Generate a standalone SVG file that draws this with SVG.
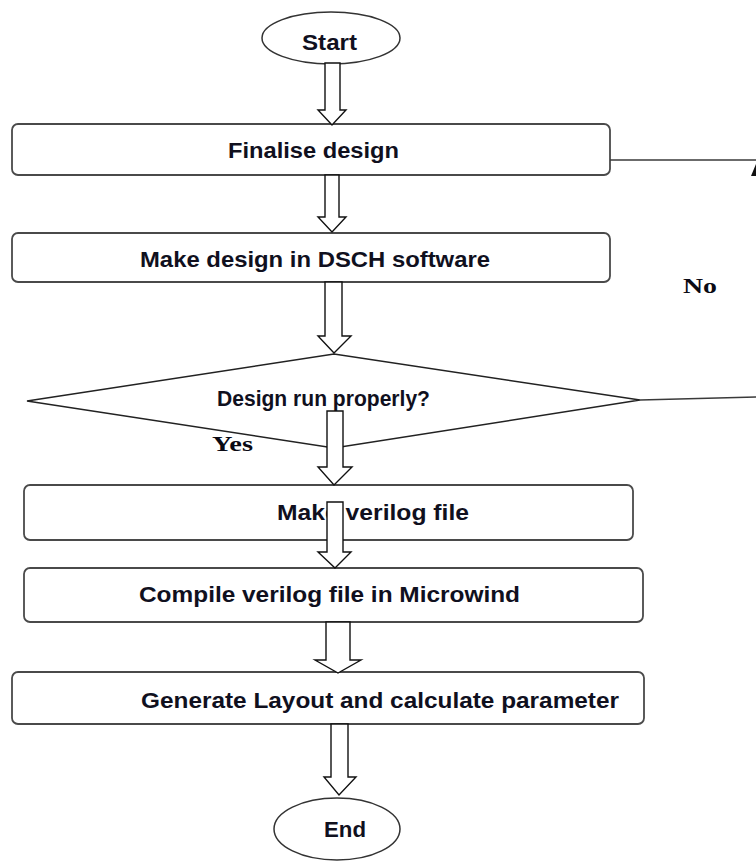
<svg xmlns="http://www.w3.org/2000/svg" width="756" height="861" viewBox="0 0 756 861">
  <style>
    .box { fill: #ffffff; stroke: #4a4a4a; stroke-width: 1.8; }
    .term { fill: #ffffff; stroke: #333333; stroke-width: 1.5; }
    .dec { fill: #ffffff; stroke: #222222; stroke-width: 1.5; }
    .flow { fill: #ffffff; stroke: #111111; stroke-width: 1.4; stroke-linejoin: miter; }
    .wire { fill: none; stroke: #3a3a3a; stroke-width: 1.6; }
    .lbl { font-family: "Liberation Sans", Arial, sans-serif; font-weight: bold; font-size: 22px; fill: #10101e; }
    .yn { font-family: "Liberation Serif", "Times New Roman", serif; font-weight: bold; font-size: 21px; fill: #0a0a14; }
  </style>

  <rect width="756" height="861" fill="#ffffff"/>

  <!-- process steps -->
  <g id="start">
    <ellipse class="term" cx="331" cy="38" rx="69" ry="26"/>
    <text class="lbl" x="302" y="50" textLength="55" lengthAdjust="spacingAndGlyphs">Start</text>
  </g>

  <g id="finalise">
    <rect class="box" x="12" y="124" width="598" height="51" rx="6"/>
    <text class="lbl" x="228" y="158" textLength="171" lengthAdjust="spacingAndGlyphs">Finalise design</text>
  </g>

  <g id="dsch">
    <rect class="box" x="12" y="233" width="598" height="49" rx="6"/>
    <text class="lbl" x="140" y="267" textLength="350" lengthAdjust="spacingAndGlyphs">Make design in DSCH software</text>
  </g>

  <g id="check">
    <polygon class="dec" points="27,401 334,354 640,400 334,448"/>
    <text class="lbl" x="217" y="406" textLength="213" lengthAdjust="spacingAndGlyphs">Design run properly?</text>
  </g>

  <g id="verilog">
    <rect class="box" x="24" y="485" width="609" height="55" rx="6"/>
    <text class="lbl" x="277" y="520" textLength="192" lengthAdjust="spacingAndGlyphs">Make verilog file</text>
  </g>

  <g id="compile">
    <rect class="box" x="24" y="568" width="619" height="54" rx="6"/>
    <text class="lbl" x="139" y="602" textLength="381" lengthAdjust="spacingAndGlyphs">Compile verilog file in Microwind</text>
  </g>

  <g id="layout">
    <rect class="box" x="12" y="672" width="632" height="52" rx="6"/>
    <text class="lbl" x="141" y="708" textLength="478" lengthAdjust="spacingAndGlyphs">Generate Layout and calculate parameter</text>
  </g>

  <g id="end">
    <ellipse class="term" cx="337" cy="829" rx="63" ry="31"/>
    <text class="lbl" x="324" y="837" textLength="42" lengthAdjust="spacingAndGlyphs">End</text>
  </g>

  <!-- connectors: block arrows down the main flow, plus the feedback line -->
  <g id="connectors">
    <path class="flow" d="M325,63 V110 H318 L332,125 L346,110 H340 V63 Z"/>
    <path class="flow" d="M325,175 V217 H318 L332,232 L346,217 H339 V175 Z"/>
    <path class="flow" d="M325,282 V336 H318 L334,353 L351,336 H342 V282 Z"/>
    <path class="flow" d="M327,411 V467 H318 L334,485 L352,467 H343 V411 Z"/>
    <path class="flow" d="M327,502 V552 H318 L335,568 L351,552 H343 V502 Z"/>
    <path class="flow" d="M326,622 V660 H315 L338,673 L361,660 H350 V622 Z"/>
    <path class="flow" d="M331,724 V777 H324 L339,795 L356,777 H348 V724 Z"/>

    <line class="wire" x1="610" y1="160" x2="756" y2="160"/>
    <line class="wire" x1="640" y1="400" x2="756" y2="397"/>
    <polygon points="751,176 756,164 756,176" fill="#111111"/>

    <text class="yn" x="212" y="451" textLength="41" lengthAdjust="spacingAndGlyphs">Yes</text>
    <text class="yn" x="683" y="293" textLength="34" lengthAdjust="spacingAndGlyphs">No</text>
  </g>
</svg>
